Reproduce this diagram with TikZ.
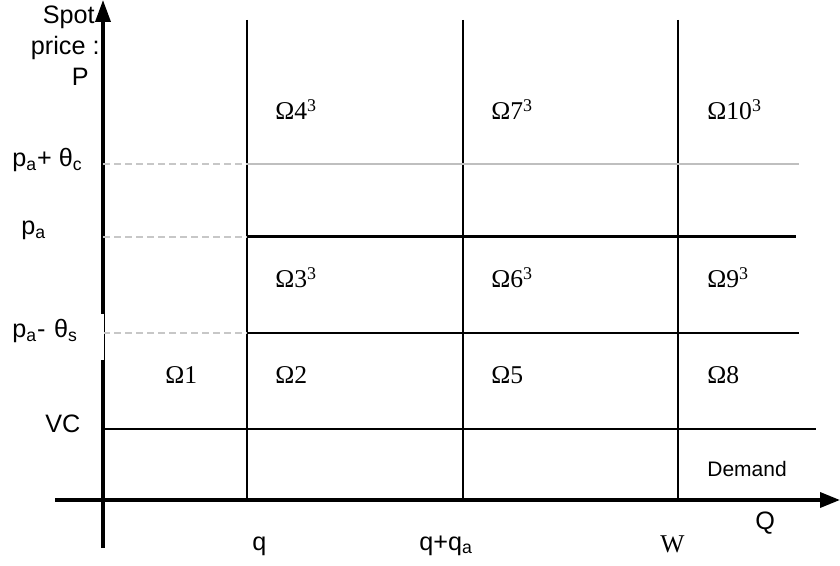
\documentclass[tikz,border=0pt]{standalone}
\usepackage{fontspec}
\setmainfont{Liberation Sans}
\newfontfamily\timesfont{Liberation Serif}
\usetikzlibrary{arrows.meta}
\tikzset{
  axis/.style={line width=1.75pt},
  cell/.style={line width=1pt},
  guide/.style={line width=0.8pt, black!22, dash pattern=on 3.5pt off 2pt},
  txt/.style={inner sep=0pt, anchor=base west, font=\fontsize{12.6}{15.5}\selectfont},
  omega/.style={txt, font=\timesfont\fontsize{12.8}{15}\selectfont},
}
\begin{document}
\begin{tikzpicture}[x=0.5pt,y=-0.5pt]
  \useasboundingbox (0,0) rectangle (840,566);
  \coordinate (ybot) at (103,548);
  \coordinate (ytop) at (103,0);
  \coordinate (xleft) at (55,500);
  \coordinate (xright) at (840,500);
  \draw[axis,-{Triangle[length=11pt,width=7.5pt]}] (ybot) -- (ytop);
  \draw[axis,-{Triangle[length=10pt,width=7.5pt]}] (xleft) -- (xright);
  \foreach \n/\x in {q/247,qa/463,w/678}{
    \coordinate (\n top) at (\x,20);
    \coordinate (\n bot) at (\x,500);
    \draw[cell] (\n top) -- (\n bot);
  }
  \foreach \n/\y/\e in {c/164/799,a/237/796,s/333/799}{
    \coordinate (\n0) at (103,\y);
    \coordinate (\n1) at (247,\y);
    \coordinate (\n2) at (\e,\y);
    \draw[guide] (\n0) -- (\n1);
  }
  \draw[line width=0.6pt, black!25] (c1) -- (c2);
  \draw[line width=1.5pt] (a1) -- (a2);
  \draw[cell] (s1) -- (s2);
  \coordinate (vc0) at (103,429);
  \coordinate (vc1) at (816,429);
  \draw[cell] (vc0) -- (vc1);
  \node[txt, anchor=north east, align=right] (spot) at (100,6) {Spot\hspace*{2.5pt}\\price :\\P\hspace*{5.5pt}};
  \node[txt] (pac) at (12,167) {p\textsubscript{a}+ θ\textsubscript{c}};
  \node[txt] (pa) at (21,235) {p\textsubscript{a}};
  \node[txt, fill=white, text width=45.75pt, align=left, inner ysep=3pt, text depth=8pt] (pas) at (12,338) {p\textsubscript{a}- θ\textsubscript{s}};
  \node[txt] (vc) at (45,432) {VC};
  \node[txt] (qlab) at (252,550) {q};
  \node[txt] (qqa) at (419,550) {q+q\textsubscript{a}};
  \node[omega] (wlab) at (660,552) {W};
  \node[txt] (bigq) at (755,529) {Q};
  \node[txt, font=\fontsize{10.5}{12}\selectfont] (demand) at (707,476) {Demand};
  \node[omega] (r1) at (165,384) {Ω1};
  \foreach \i/\x/\y/\t in {2/275/384/{Ω2}, 3/275/288/{Ω3\textsuperscript{3}}, 4/275/120/{Ω4\textsuperscript{3}},
      5/491/384/{Ω5}, 6/491/288/{Ω6\textsuperscript{3}}, 7/491/120/{Ω7\textsuperscript{3}},
      8/707/384/{Ω8}, 9/707/288/{Ω9\textsuperscript{3}}, 10/707/120/{Ω10\textsuperscript{3}}}
    \node[omega] (r\i) at (\x,\y) {\t};
\end{tikzpicture}
\end{document}
